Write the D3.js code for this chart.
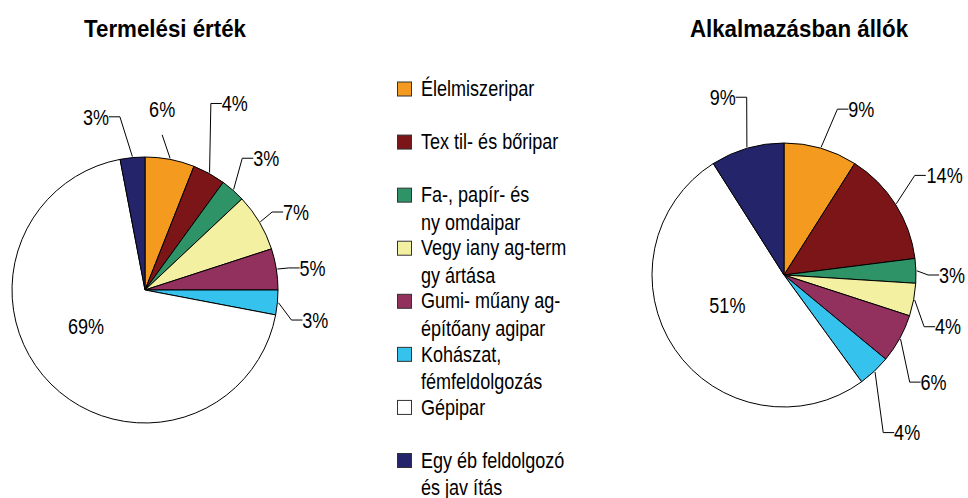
<!DOCTYPE html>
<html>
<head>
<meta charset="utf-8">
<script src="https://cdn.jsdelivr.net/npm/d3@7"></script>
<style>
  body { margin: 0; background: #fff; }
  svg text { font-family: "Liberation Sans", Arial, sans-serif; fill: #000; }
</style>
</head>
<body>
<div id="chart"></div>
<script>
const W = 968
const H = 498

// Industry sectors (legend text, as printed, split in lines)
const legendLines = [
  ["Élelmiszeripar"],
  ["Tex til- és bőripar"],
  ["Fa-, papír- és", "ny omdaipar"],
  ["Vegy iany ag-term", "gy ártása"],
  ["Gumi- műany ag-", "építőany agipar"],
  ["Kohászat,", "fémfeldolgozás"],
  ["Gépipar"],
  ["Egy éb feldolgozó", "és jav ítás"]
]
const sectorColors = ["#F39A1F", "#7B1517", "#2E9467", "#F4F0A2", "#92305E", "#35C3EE", "#FFFFFF", "#24246B"]

// Shares in percent
const termelesiErtek = [6, 4, 3, 7, 5, 3, 69, 3]
const alkalmazottak = [9, 14, 3, 4, 6, 4, 51, 9]

const titles = ["Termelési érték", "Alkalmazásban állók"]

// label placement: [angle in degrees, distance from centre]
const labelPolarLeft = [[5.4, 182], [25.7, 207], [42.6, 179], [62.7, 170], [82.5, 169], [100, 173], [238.6, 69], [344.2, 180]]
const labelPolarRight = [[25, 183], [58.2, 189], [90, 168], [107.5, 172], [125.6, 184], [142, 200], [242.2, 64], [341, 188]]

const svg = d3.select("#chart")
  .append("svg")
    .attr("width", W)
    .attr("height", H)

const sx = 0.82 // narrow font look

const addText = (g, x, y, str, anchor, size, weight, scale) => {
  g.append("g")
    .attr("transform", `translate(${x},${y}) scale(${scale},1)`)
    .append("text")
      .attr("text-anchor", anchor)
      .attr("dy", "0.35em")
      .style("font-size", size + "px")
      .style("font-weight", weight)
      .text(str)
}

const drawPie = (values, cx, cy, r, title, titleX, labelPolar) => {
  const g = svg.append("g").attr("transform", `translate(${cx},${cy})`)

  const pie = d3.pie().sort(null).value(d => d)
  const arcs = pie(values)
  const arc = d3.arc().innerRadius(0).outerRadius(r)

  g.selectAll("path.slice")
    .data(arcs)
    .join("path")
      .attr("class", "slice")
      .attr("d", arc)
      .attr("fill", (d, i) => sectorColors[i])
      .attr("stroke", "#000")
      .attr("stroke-width", 1)

  const pt = (a, rad) => [rad * Math.sin(a), -rad * Math.cos(a)]

  arcs.forEach((d, i) => {
    const [deg, dist] = labelPolar[i]
    const [tx, ty] = pt(deg * Math.PI / 180, dist)
    const txt = d.value + "%"
    const halfW = txt.length * 22 * 0.5 * sx * 0.66
    addText(g, tx, ty, txt, "middle", 22, "normal", sx)

    if (dist < r) return // inside label, no leader

    const mid = (d.startAngle + d.endAngle) / 2
    const p = pt(mid, r + 1)
    let pts
    if (Math.abs(deg) < 10) {
      pts = [p, [tx, ty + 26]]
    } else if (tx > 0) {
      const left = tx - halfW
      pts = [p, [left - 12, ty], [left - 1, ty]]
    } else {
      const right = tx + halfW
      pts = [p, [right + 12, ty], [right + 1, ty]]
    }
    g.append("polyline")
      .attr("points", pts.map(q => q.join(",")).join(" "))
      .attr("fill", "none")
      .attr("stroke", "#000")
      .attr("stroke-width", 1)
  })

  addText(svg, titleX, 29, title, "middle", 24, "bold", 0.93)
}

drawPie(termelesiErtek, 145, 290, 133, titles[0], 165, labelPolarLeft)
drawPie(alkalmazottak, 784, 275, 132, titles[1], 799, labelPolarRight)

// Legend
const legend = svg.append("g")
const rowY = d3.scaleLinear().domain([0, 7]).range([88.5, 460])

legendLines.forEach((lines, i) => {
  const y = rowY(i)
  legend.append("rect")
    .attr("x", 397.5)
    .attr("y", y - 6.5)
    .attr("width", 14)
    .attr("height", 14)
    .attr("fill", sectorColors[i])
    .attr("stroke", "#333")
    .attr("stroke-width", 1)
  lines.forEach((line, j) => {
    addText(legend, 421, y + j * 27.5, line, "start", 22, "normal", sx)
  })
})
</script>
</body>
</html>
